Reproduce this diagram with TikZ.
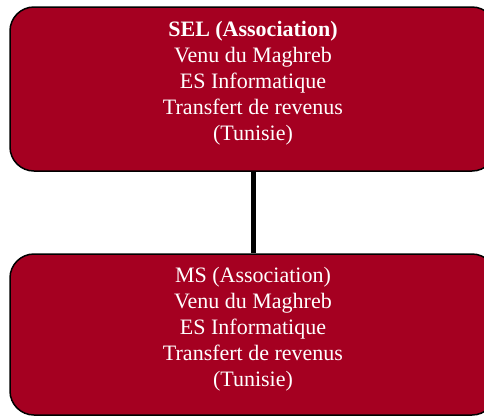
\documentclass[tikz,border=0pt]{standalone}
\usepackage{fontspec}
\setmainfont{Liberation Serif}
\definecolor{boxred}{RGB}{165,0,33}
\begin{document}
\begin{tikzpicture}[x=1pt,y=1pt,
  orgbox/.style={draw=black, line width=1.5pt, fill=boxred, rounded corners=24pt, minimum width=486pt, inner sep=0pt},
  orgtext/.style={text=white, align=center, inner sep=0pt, font=\fontsize{22}{26}\selectfont},
  link/.style={draw=black, line width=5pt}]
\useasboundingbox (0,0) rectangle (484,-416);
\node[orgbox, minimum height=164pt] (top) at (253,-89) {};
\node[orgbox, minimum height=161pt] (bot) at (253,-334.5) {};
\node[orgtext] (toptext) at (253,-83.5) {\textbf{SEL (Association)}\\Venu du Maghreb\\ES Informatique\\Transfert de revenus\\(Tunisie)};
\node[orgtext] (bottext) at (253,-329) {MS (Association)\\Venu du Maghreb\\ES Informatique\\Transfert de revenus\\(Tunisie)};
\draw[link] (top.south) -- (bot.north);
\end{tikzpicture}
\end{document}
